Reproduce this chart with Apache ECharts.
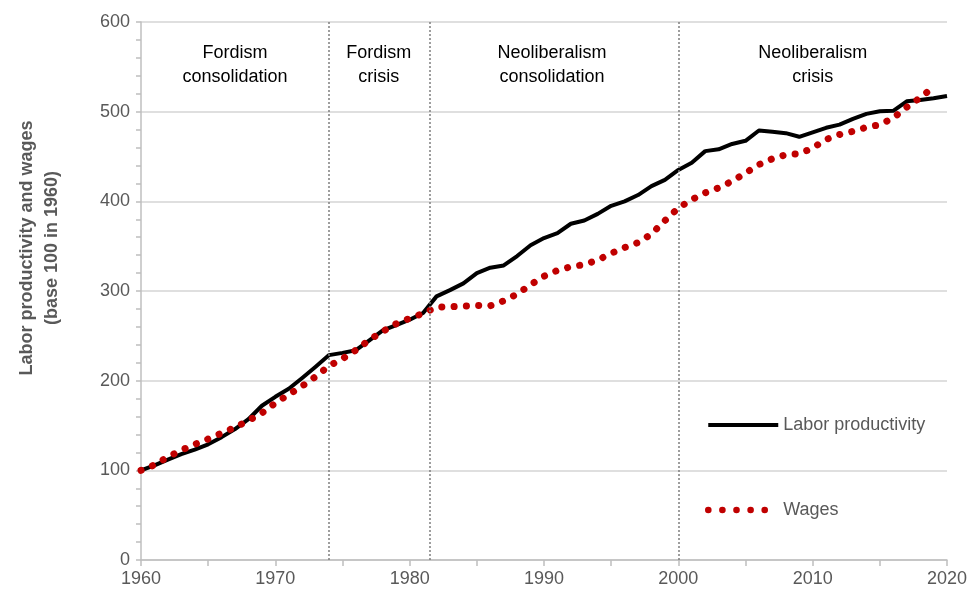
<!DOCTYPE html>
<html>
<head>
<meta charset="utf-8">
<script src="https://cdn.jsdelivr.net/npm/echarts@6/dist/echarts.min.js"></script>
<style>
  html, body { margin: 0; padding: 0; background: #fff; }
  #chart { width: 971px; height: 598px; }
</style>
</head>
<body>
<div id="chart"></div>
<script>
const years = [];
for (let y = 1960; y <= 2020; y++) years.push(y);

const productivity = [
  100, 105.5, 112, 118, 123, 129, 137, 146, 157, 172,
  182, 191, 203, 215.5, 228.5, 231, 234, 245, 256, 262,
  268, 275.5, 294, 301, 308.5, 320, 326, 328.5, 339, 351,
  359, 364.5, 375, 378.6, 386, 395, 400, 407, 417, 424,
  435, 443, 456, 458, 464, 467.5, 479, 477.5, 476, 472,
  477, 482, 485.5, 492, 497.5, 500.5, 501, 511.5, 513, 515,
  517.5
];

const wages = [
  100, 106, 115, 122.5, 129, 135, 141.5, 148, 155.5, 164,
  175, 184.5, 194, 204.5, 216.5, 224.5, 234, 245.5, 255, 263.5,
  269.5, 275, 282, 282.5, 283, 284, 283.5, 289, 296.5, 307,
  316.5, 323, 327, 329.5, 334.5, 342, 348.5, 354, 363.5, 378.5,
  392.5, 402, 409.5, 415, 422.5, 431.5, 441, 447.5, 452, 453,
  459.5, 469, 474.5, 478, 482.5, 485.5, 493, 505, 515.5, 527.5
];

// period boundaries and labels
const periodBreaks = [1974, 1981.5, 2000];
const periodNames = ['Fordism\nconsolidation', 'Fordism\ncrisis', 'Neoliberalism\nconsolidation', 'Neoliberalism\ncrisis'];
const periodCenters = [1967, 1977.7, 1990.6, 2010];
const periodLabelY = 552;

const FONT = '"Liberation Sans", Arial, sans-serif';
const GREY_TEXT = '#595959';

const chart = echarts.init(document.getElementById('chart'));

const option = {
  animation: false,
  textStyle: { fontFamily: FONT },
  grid: { left: 141, right: 24, top: 22, bottom: 38 },
  legend: {
    orient: 'vertical',
    left: 705,
    top: 416,
    padding: 0,
    itemWidth: 70,
    itemHeight: 14,
    itemGap: 67,
    textStyle: { fontSize: 18, color: GREY_TEXT, fontFamily: FONT },
    data: [
      { name: 'Labor productivity', lineStyle: { width: 4 }, itemStyle: { opacity: 0 } },
      { name: 'Wages', lineStyle: { width: 6.5, type: [0.1, 14] }, itemStyle: { opacity: 0 } }
    ]
  },
  xAxis: {
    type: 'value',
    min: 1960,
    max: 2020,
    interval: 5,
    axisLine: { lineStyle: { color: '#bfbfbf', width: 1.5 } },
    axisTick: { length: 6, lineStyle: { color: '#bfbfbf', width: 1.5 } },
    axisLabel: {
      fontSize: 18,
      color: GREY_TEXT,
      margin: 10,
      formatter: v => (v % 10 === 0 ? String(v) : '')
    },
    splitLine: { show: false }
  },
  yAxis: {
    type: 'value',
    min: 0,
    max: 600,
    interval: 100,
    name: 'Labor productivity and wages\n(base 100 in 1960)',
    nameLocation: 'middle',
    nameRotate: 90,
    nameGap: 76,
    nameTextStyle: {
      fontSize: 18, fontWeight: 'bold', color: GREY_TEXT, lineHeight: 25,
      fontFamily: FONT, padding: [0, 0, 0, 86]
    },
    axisLine: { show: true, lineStyle: { color: '#bfbfbf', width: 1.5 } },
    axisTick: { show: true, length: 5, lineStyle: { color: '#bfbfbf', width: 1.5 } },
    minorTick: { show: true, splitNumber: 5, length: 5, lineStyle: { color: '#bfbfbf', width: 1.5 } },
    axisLabel: { fontSize: 18, color: GREY_TEXT, margin: 11 },
    splitLine: { lineStyle: { color: '#d4d4d4', width: 1.5 } }
  },
  series: [
    {
      name: 'Labor productivity',
      type: 'line',
      data: years.map((y, i) => [y, productivity[i]]),
      symbol: 'none',
      color: '#000',
      lineStyle: { color: '#000', width: 4, join: 'round' },
      z: 3,
      markLine: {
        silent: true,
        symbol: 'none',
        label: { show: false },
        lineStyle: { color: '#7f7f7f', width: 1.5, type: [2, 2] },
        data: periodBreaks.map(x => ({ xAxis: x }))
      },
      markPoint: {
        silent: true,
        symbol: 'circle',
        symbolSize: 0,
        label: {
          show: true,
          position: 'inside',
          fontSize: 18,
          lineHeight: 24,
          color: '#000',
          fontFamily: FONT,
          formatter: p => p.name
        },
        data: periodNames.map((n, i) => ({ name: n, coord: [periodCenters[i], periodLabelY] }))
      }
    },
    {
      name: 'Wages',
      type: 'line',
      data: years.slice(0, wages.length).map((y, i) => [y, wages[i]]),
      symbol: 'none',
      color: '#c00000',
      lineStyle: { color: '#c00000', width: 7, type: [0.1, 12.2], cap: 'round' },
      z: 4
    }
  ]
};

chart.setOption(option);
</script>
</body>
</html>
